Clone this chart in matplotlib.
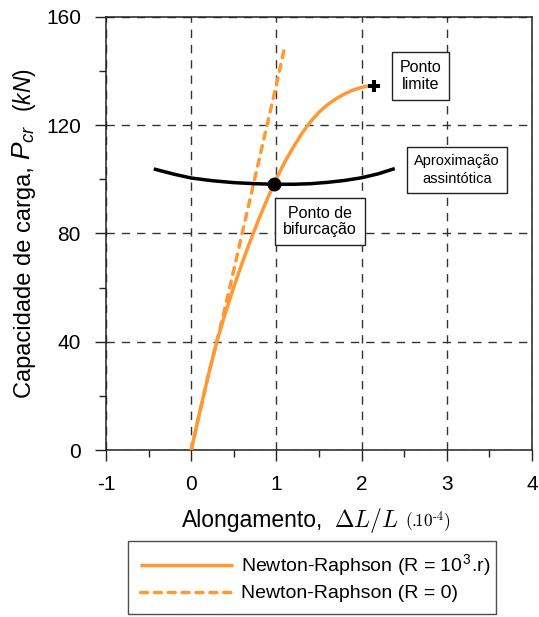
import matplotlib
matplotlib.use("Agg")
import matplotlib.pyplot as plt
from matplotlib.ticker import MultipleLocator

plt.rcParams['font.family'] = ['Liberation Sans', 'DejaVu Sans']
plt.rcParams['mathtext.fontset'] = 'cm'
plt.rcParams['axes.unicode_minus'] = False
# used only by the y label (math_fontfamily='custom')
plt.rcParams['mathtext.rm'] = 'Liberation Sans'
plt.rcParams['mathtext.it'] = 'Liberation Sans:italic'

# Newton-Raphson (R = 10^3.r)
nr_x = [0, 0.1, 0.2, 0.3, 0.4, 0.5, 0.6, 0.7, 0.8, 0.9, 1.0, 1.1, 1.2, 1.3,
        1.4, 1.5, 1.6, 1.7, 1.8, 1.9, 2.0, 2.09]
nr_y = [0, 14, 27.5, 40, 50.5, 60.2, 69.3, 77.8, 85.8, 93.3, 100.3, 106.5, 112,
        117, 121.3, 124.8, 127.6, 129.8, 131.6, 133, 134, 134.6]

# Newton-Raphson (R = 0)
nr0_x = [0, 0.1, 0.2, 0.3, 0.4, 0.5, 0.6, 0.7, 0.8, 0.9, 1.0, 1.094]
nr0_y = [0, 14, 27.5, 40, 53, 66.5, 80.3, 94, 107.7, 121.4, 135, 148.5]

# aproximacao assintotica
asy_x = [-0.42, -0.2, 0, 0.25, 0.5, 0.75, 0.966, 1.2, 1.4, 1.6, 1.8, 2.0, 2.2, 2.37]
asy_y = [103.7, 101.9, 100.5, 99.5, 98.8, 98.4, 98.2, 98.2, 98.4, 98.9, 99.6,
         100.6, 102.1, 103.8]

bif_pt = (0.966, 98.2)
lim_pt = (2.15, 134.5)

orange = '#FF9933'

fig = plt.figure(figsize=(5.39, 6.17), dpi=100)
ax = fig.add_axes([106/539, 1 - 450/617, (532-106)/539, (450-17)/617])

ax.plot(nr_x, nr_y, color=orange, lw=2.5, label=r'Newton-Raphson (R = 10$^{\mathregular{3}}$.r)',
        solid_capstyle='butt', solid_joinstyle='round', zorder=3)
ax.plot(nr0_x, nr0_y, color=orange, lw=2.5, ls=(0, (2.0, 2.0)), dash_capstyle='round',
        label='Newton-Raphson (R = 0)', zorder=3)
ax.plot(asy_x, asy_y, color='black', lw=2.5, zorder=4)
ax.plot(*bif_pt, 'o', color='black', ms=9, zorder=5)
ax.plot(*lim_pt, marker='P', color='black', ms=9, mew=0, zorder=5)

ax.set_xlim(-1, 4)
ax.set_ylim(0, 160)
ax.xaxis.set_major_locator(MultipleLocator(1))
ax.xaxis.set_minor_locator(MultipleLocator(0.5))
ax.yaxis.set_major_locator(MultipleLocator(40))
ax.yaxis.set_minor_locator(MultipleLocator(20))
ax.tick_params(which='major', direction='out', length=8, width=1, labelsize=15, pad=10,
               color='#222222')
ax.tick_params(which='minor', direction='out', length=5, width=1, color='#222222')
ax.grid(True, which='major', color='#333333', ls=(0, (6, 5)), lw=1)
for s in ax.spines.values():
    s.set_color('#222222')
    s.set_linewidth(1.1)

# y label in three pieces (sizes differ in the original)
fig.text(31/539, 1 - 398/617, 'Capacidade de carga,', fontsize=17, rotation=90,
         rotation_mode='anchor', ha='left', va='baseline')
fig.text(31/539, 1 - 160/617, r'$P_{cr}$', fontsize=19, rotation=90,
         rotation_mode='anchor', ha='left', va='baseline', math_fontfamily='custom')
fig.text(31/539, 1 - 112/617, r'$(kN)$', fontsize=16.5, rotation=90,
         rotation_mode='anchor', ha='left', va='baseline', math_fontfamily='custom')

# x label
fig.text(182/539, 1 - 527/617, 'Alongamento,', fontsize=16.5, ha='left', va='baseline')
fig.text(334/539, 1 - 527/617, r'$\Delta L/L$', fontsize=17, ha='left', va='baseline')
fig.text(405/539, 1 - 527/617, r'$(.\!\!10^{\text{-4}})$', fontsize=12.5,
         ha='left', va='baseline')

bbox = dict(boxstyle='square,pad=0.5', fc='white', ec='#222222', lw=1)
ax.text(2.69, 138.2, 'Ponto\nlimite', fontsize=11.5, ha='center', va='center',
        bbox=bbox, linespacing=1.1, zorder=6)
ax.text(3.12, 103.5, 'Aproximação\nassintótica', fontsize=10.5, ha='center', va='center',
        bbox=dict(boxstyle='square,pad=0.5', fc='white', ec='#222222', lw=1),
        linespacing=1.3, zorder=6)
ax.text(1.51, 84.3, 'Ponto de\nbifurcação', fontsize=11.5, ha='center', va='center',
        bbox=bbox, linespacing=1.1, zorder=6)

leg = fig.legend(loc='lower left', bbox_to_anchor=(128/539, 3/617, (496-128)/539, 70/617),
                 mode='expand', borderaxespad=0, fontsize=14, frameon=True,
                 fancybox=False, edgecolor='#222222', handlelength=4.8,
                 handletextpad=0.4, borderpad=0.6, labelspacing=0.3)
leg.get_frame().set_linewidth(1)

fig.savefig('out.png', dpi=100)
